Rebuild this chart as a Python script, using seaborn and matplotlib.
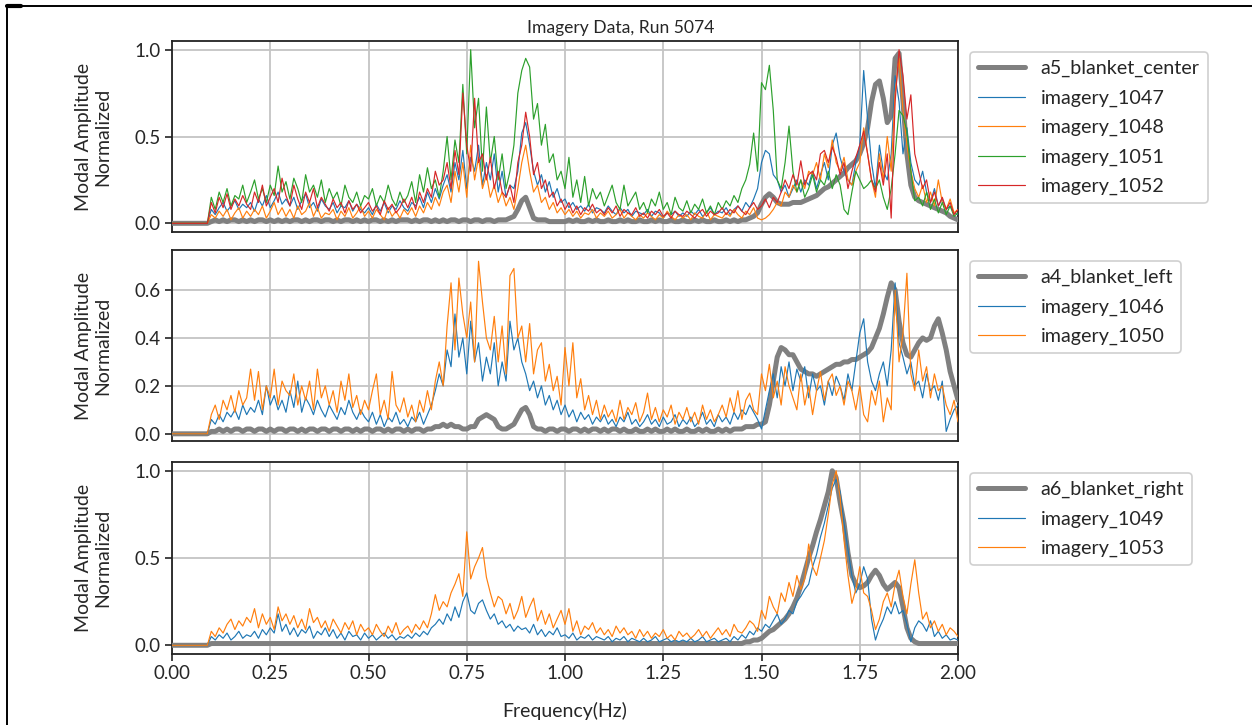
import numpy as np
import matplotlib
matplotlib.use("Agg")
import matplotlib.pyplot as plt
from matplotlib.lines import Line2D
import seaborn as sns

# ---------------- data (percent, frequency step 0.01 Hz from 0.00) ----------------
TITLE = "Imagery Data, Run 5074"
XLABEL = "Frequency(Hz)"
YLABEL = "Modal Amplitude\nNormalized"
XTICKS = [0.00, 0.25, 0.50, 0.75, 1.00, 1.25, 1.50, 1.75, 2.00]

a5_blanket_center = [0]*10 + [
 1,2,1,2,1,2,2,1,2,1, 2,1,2,2,1,2,1,2,1,2, 1,2,2,1,2,1,2,2,1,2, 2,1,2,1,2,2,1,2,1,2,
 1,2,2,1,2,1,2,1,2,2, 2,1,2,1,2,2,1,2,1,2, 1,2,2,1,2,2,1,2,2,1, 2,2,1,2,2,2,3,4,8,13,
 15,9,3,2,2,2,1,1,1,1, 1,2,1,2,1,1,2,1,2,1, 1,2,1,1,2,1,2,1,1,2, 1,1,2,1,2,1,1,2,1,1,
 2,1,1,2,1,2,1,1,2,1, 1,2,1,2,1,2,2,3,4,6, 11,15,17,15,12,11,11,11,12,12, 12,13,14,15,16,18,20,21,23,25,
 27,29,32,34,36,40,46,55,70,80, 82,72,58,62,95,98,70,40,22,15, 13,12,11,10,9,8,7,6,4,3, 2]
imagery_1047 = [0]*10 + [
 8,5,9,12,7,10,13,8,11,9, 12,7,14,10,16,9,13,18,11,14, 10,15,8,13,17,9,12,7,14,10,
 8,12,6,10,9,13,7,11,8,6, 9,5,11,7,12,6,10,8,13,9, 7,12,10,15,9,18,12,20,14,22,
 28,18,35,25,42,20,38,30,45,22, 35,25,40,18,30,15,22,20,30,52, 58,45,30,22,28,18,24,15,20,12,
 14,9,12,8,10,7,11,6,9,8, 6,10,7,5,9,6,8,4,7,6, 5,8,4,7,6,3,6,5,7,4,
 6,4,7,5,8,4,6,9,5,7, 6,9,5,8,10,7,12,9,14,20, 35,42,40,28,25,18,22,15,20,25,
 18,25,22,30,20,28,35,25,45,52, 38,30,25,22,35,45,88,60,35,20, 45,30,25,40,85,70,40,55,35,25,
 22,30,18,12,20,10,14,8,10,6, 5]
imagery_1048 = [0]*10 + [
 5,3,7,4,8,2,6,9,3,7, 4,8,5,10,3,7,12,5,9,4, 8,3,10,5,7,12,4,9,3,6,
 5,8,2,7,4,9,3,6,10,4, 7,3,8,5,2,9,4,7,3,8, 5,9,4,10,6,12,8,15,10,18,
 22,12,30,18,35,15,45,25,38,20, 28,15,22,12,18,10,15,8,20,35, 45,30,18,22,12,15,8,12,6,9,
 5,8,4,7,3,6,5,8,3,6, 4,7,3,5,8,3,6,4,2,5, 3,6,4,2,5,3,7,4,2,5,
 3,5,2,6,4,3,7,2,5,4, 3,6,4,8,5,3,7,5,9,3, 2,3,5,8,12,10,18,15,22,18,
 25,20,30,28,35,25,40,32,48,35, 30,38,25,22,30,35,55,40,25,15, 40,25,50,30,75,95,65,45,30,20,
 15,22,12,18,10,25,12,8,14,6, 8]
imagery_1051 = [0]*10 + [
 15,8,18,12,20,10,16,14,22,12, 18,25,14,20,12,22,16,33,18,24, 14,26,20,12,28,18,22,15,25,12,
 20,14,18,10,22,15,12,18,10,16, 14,20,10,16,12,22,14,10,18,12, 16,24,12,28,18,32,20,25,15,30,
 50,25,48,35,80,40,100,55,72,30, 67,35,50,25,40,20,30,45,75,88, 95,90,60,69,45,57,35,40,25,30,
 20,38,15,25,12,27,10,20,14,18, 10,16,22,12,8,22,10,14,18,8, 12,6,14,10,18,8,12,5,15,9,
 7,13,6,11,8,14,6,10,5,12, 8,13,10,16,12,20,25,34,52,30, 81,77,91,65,25,20,35,56,30,18,
 25,15,20,28,18,25,22,30,20,28, 22,8,5,18,30,25,20,22,25,20, 25,15,8,20,40,65,62,53,30,13,
 15,10,18,8,14,6,12,5,10,4, 6]
imagery_1052 = [0]*10 + [
 12,6,15,9,17,8,14,10,16,11, 8,18,12,22,10,15,20,12,26,16, 10,22,14,8,18,12,20,9,15,11,
 7,14,9,12,6,13,8,11,6,9, 12,7,10,5,13,8,11,6,9,14, 9,15,8,18,12,20,15,30,22,25,
 35,20,42,28,75,45,30,72,35,40, 25,38,20,30,18,15,22,12,35,45, 64,50,28,35,20,25,15,18,10,14,
 8,12,6,10,5,9,7,11,6,8, 5,9,6,10,4,8,6,5,9,4, 6,3,7,5,8,4,6,3,7,5,
 4,7,5,3,6,8,4,7,5,6, 9,5,8,6,10,7,5,9,12,8, 10,14,9,15,12,18,25,20,28,22,
 36,22,28,30,25,40,42,35,44,38, 28,35,20,30,38,45,53,40,25,18, 35,22,40,3,70,100,85,60,74,40,
 30,20,25,12,18,10,15,8,12,5, 8]

a4_blanket_left = [0]*10 + [
 1,1,2,1,2,1,2,2,1,2, 2,1,2,2,1,2,1,2,2,1, 2,2,1,2,1,2,2,1,2,2,
 1,2,2,1,2,2,1,2,1,2, 2,1,2,2,1,2,1,2,2,1, 2,1,2,2,1,2,2,3,3,4,
 3,4,3,3,2,2,3,3,6,7, 8,7,6,3,2,2,3,4,7,10, 11,8,3,2,2,1,2,2,1,2,
 2,1,2,2,1,2,1,2,2,1, 2,1,2,2,1,2,1,1,2,1, 1,2,1,2,1,1,2,1,2,1,
 1,2,1,1,2,1,2,1,1,2, 1,2,1,2,2,2,3,3,3,4, 4,5,12,22,32,36,35,33,33,30,
 27,26,25,25,24,25,26,27,28,29, 29,30,30,31,31,32,33,34,36,40, 44,50,57,63,60,47,38,33,32,35,
 38,40,39,40,45,48,42,35,26,20, 14]
imagery_1046 = [0]*10 + [
 6,4,8,5,9,7,10,6,12,8, 11,9,14,8,20,12,16,10,14,9, 18,11,22,9,15,12,8,14,10,7,
 12,9,6,11,8,14,9,6,10,7, 5,9,4,8,3,7,5,9,4,6, 3,7,5,9,4,8,12,18,25,20,
 35,28,50,32,40,25,47,30,38,22, 32,25,38,20,30,22,47,35,40,30, 25,18,22,15,20,12,16,10,14,8,
 12,7,10,5,9,6,8,4,7,5, 8,4,6,3,7,5,9,4,6,3, 5,8,4,6,3,7,4,5,8,3,
 6,4,7,3,5,9,4,6,3,8, 5,7,4,9,6,10,8,12,9,6, 2,10,18,25,15,28,20,30,18,27,
 22,28,15,25,18,20,12,22,16,24, 20,14,25,18,30,42,48,30,22,18, 25,30,20,35,63,38,32,25,30,20,
 22,15,25,18,20,14,22,1,6,10, 12]
imagery_1050 = [0]*10 + [
 8,12,6,14,10,16,9,18,12,15, 27,14,26,10,20,15,27,12,22,18, 16,25,12,20,14,22,10,27,15,20,
 12,18,9,22,14,25,11,16,8,14, 10,18,25,8,14,6,26,12,9,15, 7,12,5,14,9,18,10,22,30,20,
 45,63,35,65,50,40,55,30,72,55, 40,35,49,30,45,25,66,69,40,45, 30,46,25,35,38,22,29,18,24,12,
 36,20,38,15,23,10,16,8,14,6, 12,7,10,5,14,6,11,8,13,5, 9,17,6,11,5,10,7,12,4,9,
 6,11,5,9,4,12,6,10,5,8, 12,7,15,9,18,6,14,17,10,8, 25,18,29,15,22,12,28,20,15,10,
 25,12,20,8,18,26,14,22,25,16, 20,12,22,18,10,20,8,5,18,12, 22,5,15,10,60,30,42,67,25,18,
 35,22,28,15,25,18,20,12,8,14, 5]

a6_blanket_right = [0]*10 + [
 1,1,1,1,1,1,1,1,1,1, 1,1,1,1,1,1,1,1,1,1, 1,1,1,1,1,1,1,1,1,1,
 1,1,1,1,1,1,1,1,1,1, 1,1,1,1,1,1,1,1,1,1, 1,1,1,1,1,1,1,1,1,1,
 1,1,1,1,1,1,1,1,1,1, 1,1,1,1,1,1,1,1,1,1, 1,1,1,1,1,1,1,1,1,1,
 1,1,1,1,1,1,1,1,1,1, 1,1,1,1,1,1,1,1,1,1, 1,1,1,1,1,1,1,1,1,1,
 1,1,1,1,1,1,1,1,1,1, 1,1,1,1,1,1,2,2,3,3, 4,6,8,9,11,13,15,18,22,27,
 34,42,50,57,65,72,80,88,100,96, 82,70,53,40,35,33,34,36,40,43, 40,35,32,34,36,33,22,10,4,2,
 1,1,1,1,1,1,1,1,1,1, 1]
imagery_1049 = [0]*10 + [
 5,3,6,4,7,3,5,8,4,6, 5,8,4,9,6,10,7,18,8,12, 6,10,5,9,7,11,4,8,6,10,
 5,9,4,7,3,8,5,6,3,7, 4,6,3,5,7,4,6,3,5,4, 6,4,7,5,8,6,10,12,15,12,
 18,14,22,16,25,30,20,18,24,26, 20,15,18,12,14,10,12,8,11,9, 10,7,12,6,9,5,8,6,10,5,
 6,4,7,3,5,4,6,3,5,4, 3,5,2,4,3,5,2,4,3,2, 4,2,3,5,2,3,4,2,3,2,
 3,2,4,2,3,5,2,3,4,2, 3,4,2,5,3,6,4,8,6,10, 8,12,10,14,18,12,15,20,18,25,
 28,32,35,45,52,62,70,80,90,95, 88,70,55,40,30,35,45,38,15,3, 10,15,22,18,25,18,20,12,2,10,
 14,12,8,14,5,8,4,6,3,4, 3]
imagery_1053 = [0]*10 + [
 8,5,10,7,12,15,9,14,11,16, 13,21,10,18,12,16,9,22,14,18, 12,17,10,15,9,21,13,16,10,14,
 8,15,11,7,13,9,14,6,12,8, 10,6,12,8,5,11,7,13,6,9, 11,7,12,9,14,10,18,29,20,25,
 22,30,35,41,28,65,38,45,50,56, 39,30,22,28,26,18,24,15,20,28, 16,22,27,14,20,12,18,10,15,20,
 12,21,8,14,6,11,9,13,7,10, 6,9,5,11,7,10,6,8,4,9, 5,8,4,7,5,9,4,6,3,8,
 5,7,4,6,9,5,8,4,7,10, 6,9,5,12,8,7,10,14,12,8, 20,15,28,22,18,30,25,36,28,40,
 32,38,58,45,40,50,60,75,92,100, 85,60,40,24,32,45,30,28,20,9, 15,25,30,22,35,43,28,18,35,49,
 30,15,19,10,14,8,12,6,10,8, 5]

panels = [
    ("a5_blanket_center", a5_blanket_center,
     [("imagery_1047", imagery_1047), ("imagery_1048", imagery_1048),
      ("imagery_1051", imagery_1051), ("imagery_1052", imagery_1052)]),
    ("a4_blanket_left", a4_blanket_left,
     [("imagery_1046", imagery_1046), ("imagery_1050", imagery_1050)]),
    ("a6_blanket_right", a6_blanket_right,
     [("imagery_1049", imagery_1049), ("imagery_1053", imagery_1053)]),
]
YTICKS = [[0.0, 0.5, 1.0], [0.0, 0.2, 0.4, 0.6], [0.0, 0.5, 1.0]]
YLIMS = [(-0.05, 1.05), (-0.03, 0.767), (-0.05, 1.05)]

# ---------------- style ----------------
sns.set_theme(style="ticks")
plt.rcParams['font.family'] = ['Lato', 'DejaVu Sans']
COLORS = sns.color_palette("tab10")

W, H = 1252, 725
fig = plt.figure(figsize=(W/100, H/100), dpi=100)

boxes = [(41, 232), (250, 441), (462, 654)]
L, R = 172, 958
for k, ((ref_name, ref_vals, others), (top, bot)) in enumerate(zip(panels, boxes)):
    ax = fig.add_axes([L/W, 1-bot/H, (R-L)/W, (bot-top)/H])
    x = np.arange(len(ref_vals)) * 0.01
    sns.lineplot(x=x, y=np.array(ref_vals)/100.0, ax=ax, color="#808080", lw=3.6,
                 label=ref_name, zorder=3)
    for j, (nm, vals) in enumerate(others):
        xx = np.arange(len(vals)) * 0.01
        sns.lineplot(x=xx, y=np.array(vals)/100.0, ax=ax, color=COLORS[j],
                     lw=0.85, label=nm, zorder=4)
    ax.set_xlim(0, 2)
    ax.set_ylim(*YLIMS[k])
    ax.set_xticks(XTICKS)
    ax.set_yticks(YTICKS[k])
    ax.set_yticklabels([f"{t:.1f}" for t in YTICKS[k]])
    ax.grid(True, color="#c4c4c4", lw=1.3)
    ax.set_axisbelow(True)
    for s in ax.spines.values():
        s.set_color("#222222")
        s.set_linewidth(1.3)
    ax.tick_params(axis="both", labelsize=13.5, length=5, width=1.2, color="#222222", pad=3)
    if k < 2:
        ax.tick_params(axis="x", labelbottom=False, length=0)
    ax.set_ylabel(YLABEL, fontsize=14, linespacing=1.2)
    ax.yaxis.set_label_coords(-0.077, 0.5)
    if k == 2:
        ax.set_xlabel(XLABEL, fontsize=14, labelpad=14)
    else:
        ax.set_xlabel("")
    leg = ax.legend(loc="upper left", bbox_to_anchor=(1.015, 0.942), borderaxespad=0,
                    fontsize=14.2, handlelength=2.4, handletextpad=0.8,
                    labelspacing=0.62, borderpad=0.4,
                    frameon=True, fancybox=True, framealpha=1, edgecolor="#d0d0d0")
    leg.get_frame().set_linewidth(1.2)

fig.text(621/W, 1-28/H, TITLE, ha="center", va="center", fontsize=12.6)

# screenshot frame lines
fig.add_artist(Line2D([7/W, 1.0], [1-5.5/H, 1-5.5/H], color="black", lw=1.4))
fig.add_artist(Line2D([7/W, 7/W], [0, 1-5.5/H], color="black", lw=1.4))
fig.add_artist(Line2D([7/W, 21/W], [1-5.5/H, 1-5.5/H], color="black", lw=3))

fig.savefig("out.png", dpi=100)
